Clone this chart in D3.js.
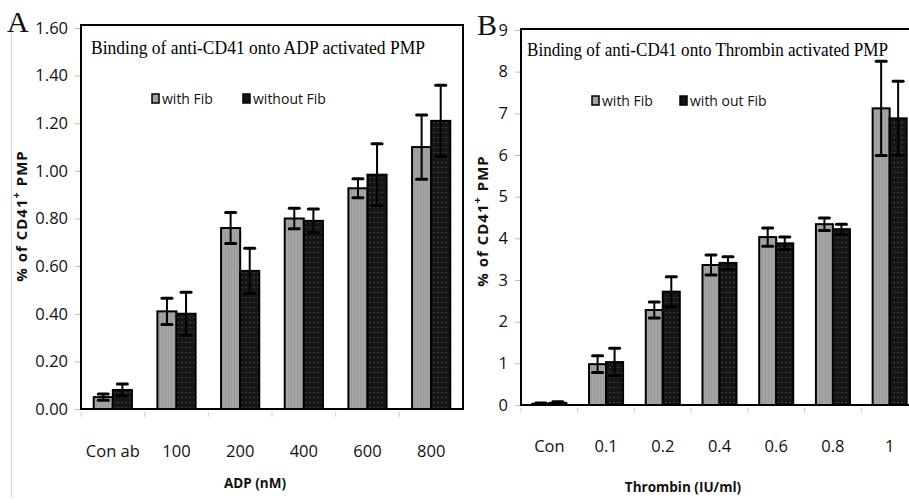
<!DOCTYPE html>
<html>
<head>
<meta charset="utf-8">
<script src="https://cdn.jsdelivr.net/npm/d3@7"></script>
<style>
  body { margin: 0; background: #fff; }
  svg { display: block; }
</style>
</head>
<body>
<script>
// panel A: ADP
var catsA = ["Con ab", "100", "200", "400", "600", "800"];
var withFibA = [0.05, 0.41, 0.76, 0.80, 0.927, 1.10];
var withFibErrA = [0.013, 0.055, 0.065, 0.043, 0.04, 0.135];
var withoutFibA = [0.08, 0.40, 0.58, 0.79, 0.984, 1.21];
var withoutFibErrA = [0.025, 0.09, 0.095, 0.05, 0.13, 0.15];
var ticksA = [0, 0.2, 0.4, 0.6, 0.8, 1.0, 1.2, 1.4, 1.6];

// panel B: Thrombin
var catsB = ["Con", "0.1", "0.2", "0.4", "0.6", "0.8", "1"];
var withFibB = [0.03, 0.98, 2.28, 3.36, 4.03, 4.34, 7.12];
var withFibErrB = [0.02, 0.2, 0.19, 0.24, 0.22, 0.15, 1.13];
var withoutFibB = [0.05, 1.03, 2.72, 3.41, 3.88, 4.22, 6.88];
var withoutFibErrB = [0.03, 0.33, 0.36, 0.15, 0.15, 0.12, 0.89];
var ticksB = [0, 1, 2, 3, 4, 5, 6, 7, 8, 9];

var width = 909, height = 503;

var svg = d3.select('body').append('svg')
    .attr('width', width)
    .attr('height', height);

/* bar textures */
var defs = svg.append('defs');
var pg = defs.append('pattern').attr('id', 'grayTex')
    .attr('patternUnits', 'userSpaceOnUse').attr('width', 3).attr('height', 4);
pg.append('rect').attr('width', 3).attr('height', 4).attr('fill', '#a4a4a4');
pg.append('rect').attr('width', 1).attr('height', 4).attr('fill', '#9a9a9a');
var pb = defs.append('pattern').attr('id', 'blackTex')
    .attr('patternUnits', 'userSpaceOnUse').attr('width', 4).attr('height', 5);
pb.append('rect').attr('width', 4).attr('height', 5).attr('fill', '#161616');
pb.append('rect').attr('x', 1).attr('y', 2).attr('width', 2).attr('height', 1).attr('fill', '#3c3c3c');

// faint outer border line on the left
svg.append('line')
    .attr('x1', 11.5).attr('x2', 11.5).attr('y1', 18).attr('y2', 498)
    .attr('stroke', '#dadada');

function panel(o) {
    var x0 = d3.scaleBand().domain(o.cats).range([o.left, o.right]);
    var x1 = d3.scaleBand().domain(['with', 'without'])
        .range([x0.bandwidth() * 0.2, x0.bandwidth() * 0.8]);
    var y = d3.scaleLinear().domain([0, o.max]).range([o.bottom, o.top]);

    var g = svg.append('g');

    // y axis ticks + labels
    var ya = g.append('g')
        .attr('transform', 'translate(' + o.left + ',0)')
        .call(d3.axisLeft(y).tickValues(o.ticks).tickFormat(o.fmt).tickSize(6).tickPadding(7));
    ya.select('.domain').remove();
    ya.selectAll('.tick line').attr('stroke', '#bdbdbd');
    ya.selectAll('.tick text')
        .attr('font-family', '"Open Sans", sans-serif')
        .attr('font-size', 16.5).attr('fill', '#111');

    // x axis labels
    var xa = g.append('g')
        .attr('transform', 'translate(0,' + o.bottom + ')')
        .call(d3.axisBottom(x0).tickSize(0).tickPadding(o.labelPad));
    xa.select('.domain').remove();
    xa.selectAll('.tick text')
        .attr('font-family', '"Open Sans", sans-serif')
        .attr('font-size', 16.5).attr('fill', '#111');

    // category boundary ticks
    var bounds = o.cats.map(function(c) { return x0(c); });
    g.selectAll('.bt').data(bounds).enter().append('line')
        .attr('x1', function(d) { return d; }).attr('x2', function(d) { return d; })
        .attr('y1', o.bottom + 3).attr('y2', o.bottom + 8)
        .attr('stroke', '#cfcfcf');

    // frame
    g.append('rect')
        .attr('x', o.left).attr('y', o.frameTop)
        .attr('width', o.frameRight - o.left).attr('height', o.bottom - o.frameTop)
        .attr('fill', 'none').attr('stroke', '#000').attr('stroke-width', 2);

    var series = [
        {key: 'with', vals: o.withFib, errs: o.withFibErr, fill: 'url(#grayTex)'},
        {key: 'without', vals: o.withoutFib, errs: o.withoutFibErr, fill: 'url(#blackTex)'}
    ];

    series.forEach(function(s) {
        var rows = o.cats.map(function(c, i) { return {cat: c, v: s.vals[i], e: s.errs[i]}; });
        g.selectAll('.bar-' + s.key).data(rows).enter().append('rect')
            .attr('x', function(d) { return x0(d.cat) + x1(s.key); })
            .attr('y', function(d) { return y(d.v); })
            .attr('width', x1.bandwidth())
            .attr('height', function(d) { return o.bottom - y(d.v); })
            .attr('fill', s.fill)
            .attr('stroke', '#000').attr('stroke-width', 2);
    });

    series.forEach(function(s) {
        var rows = o.cats.map(function(c, i) { return {cat: c, v: s.vals[i], e: s.errs[i]}; });
        var cx = function(d) { return x0(d.cat) + x1(s.key) + x1.bandwidth() / 2; };
        var eb = g.selectAll('.err-' + s.key).data(rows).enter().append('g');
        eb.append('line')
            .attr('x1', cx).attr('x2', cx)
            .attr('y1', function(d) { return y(d.v + d.e); })
            .attr('y2', function(d) { return y(d.v - d.e); })
            .attr('stroke', '#000').attr('stroke-width', 2);
        [1, -1].forEach(function(sign) {
            eb.append('line')
                .attr('x1', function(d) { return cx(d) - 5; })
                .attr('x2', function(d) { return cx(d) + 5; })
                .attr('y1', function(d) { return y(d.v + sign * d.e); })
                .attr('y2', function(d) { return y(d.v + sign * d.e); })
                .attr('stroke', '#000').attr('stroke-width', 3)
                .attr('stroke-linecap', 'round');
        });
    });

    // chart title inside frame
    g.append('text')
        .attr('x', o.titleX).attr('y', o.titleY)
        .attr('font-family', '"Liberation Serif", "Times New Roman", serif')
        .attr('font-size', 18)
        .attr('textLength', o.titleLen).attr('lengthAdjust', 'spacingAndGlyphs')
        .text(o.title);

    // legend
    o.legend.forEach(function(l, i) {
        g.append('rect')
            .attr('x', l.x).attr('y', o.legendY - 5)
            .attr('width', 7).attr('height', 9)
            .attr('fill', i === 0 ? '#a4a4a4' : '#161616')
            .attr('stroke', '#000').attr('stroke-width', 1.5);
        g.append('text')
            .attr('x', l.x + 10).attr('y', o.legendY + 5)
            .attr('font-family', '"Open Sans", sans-serif')
            .attr('font-size', 14).attr('fill', '#111')
            .text(l.label);
    });

    // y axis title
    var yt = g.append('text')
        .attr('transform', 'translate(' + o.yTitleX + ',' + o.yTitleY + ') rotate(-90)')
        .attr('text-anchor', 'middle')
        .attr('font-family', '"Open Sans", sans-serif')
        .attr('font-weight', 'bold').attr('font-size', 15)
        .attr('letter-spacing', 1).attr('fill', '#111');
    yt.append('tspan').text('% of CD41');
    yt.append('tspan').attr('dy', -7).attr('font-size', 11).text('+');
    yt.append('tspan').attr('dy', 7).text(' PMP');

    // x axis title
    g.append('text')
        .attr('x', o.xTitleX).attr('y', o.xTitleY)
        .attr('text-anchor', 'middle')
        .attr('font-family', '"Open Sans", sans-serif')
        .attr('font-weight', 'bold').attr('font-size', 13.5).attr('fill', '#111')
        .text(o.xTitle);

    // panel letter
    g.append('text')
        .attr('x', o.letterX).attr('y', o.letterY)
        .attr('font-family', '"Liberation Serif", "Times New Roman", serif')
        .attr('font-size', 30).attr('fill', '#111')
        .text(o.letter);
}

panel({
    cats: catsA, withFib: withFibA, withFibErr: withFibErrA,
    withoutFib: withoutFibA, withoutFibErr: withoutFibErrA,
    ticks: ticksA, fmt: d3.format('.2f'), max: 1.6,
    left: 81, right: 463, frameRight: 463, frameTop: 25, top: 28, bottom: 409,
    labelPad: 36,
    title: 'Binding of anti-CD41 onto ADP activated PMP', titleX: 91, titleY: 54, titleLen: 334,
    legendY: 99, legend: [{x: 152, label: 'with Fib'}, {x: 243, label: 'without Fib'}],
    yTitleX: 27, yTitleY: 216,
    xTitle: 'ADP (nM)', xTitleX: 255, xTitleY: 488,
    letter: 'A', letterX: 7, letterY: 32
});

panel({
    cats: catsB, withFib: withFibB, withFibErr: withFibErrB,
    withoutFib: withoutFibB, withoutFibErr: withoutFibErrB,
    ticks: ticksB, fmt: d3.format('d'), max: 9,
    left: 521, right: 918, frameRight: 930, frameTop: 29, top: 30, bottom: 405,
    labelPad: 35,
    title: 'Binding of anti-CD41 onto Thrombin activated PMP', titleX: 527, titleY: 56, titleLen: 361,
    legendY: 101, legend: [{x: 592, label: 'with Fib'}, {x: 680, label: 'with out Fib'}],
    yTitleX: 488, yTitleY: 221,
    xTitle: 'Thrombin (IU/ml)', xTitleX: 683, xTitleY: 492,
    letter: 'B', letterX: 477, letterY: 35
});
</script>
</body>
</html>
